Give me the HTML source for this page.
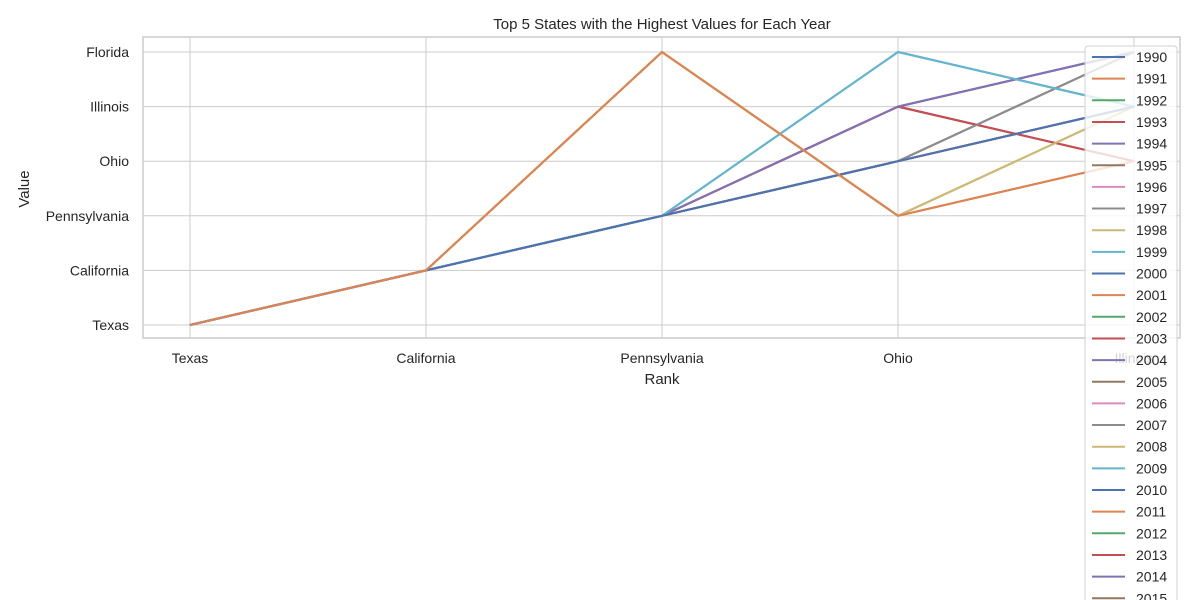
<!DOCTYPE html>
<html><head><meta charset="utf-8"><style>
html,body{margin:0;background:#fff;font-family:"Liberation Sans",sans-serif;overflow:hidden;width:1200px;height:600px}
svg{display:block;overflow:hidden}
svg text{font-family:"Liberation Sans",sans-serif;fill:#262626}
</style></head><body>
<svg width="1200" height="600" id="c">
<text x="662" y="29" font-size="15" text-anchor="middle">Top 5 States with the Highest Values for Each Year</text>
<text x="662" y="384" font-size="15" text-anchor="middle">Rank</text>
<text x="29" y="189" font-size="15" text-anchor="middle" transform="rotate(-90 29 189)">Value</text>
<g id="grid"></g><g id="lines"></g><g id="legend"></g>
</svg>
<script>
const ranks=["Texas","California","Pennsylvania","Ohio","Illinois"];
const states=["Texas","California","Pennsylvania","Ohio","Illinois","Florida"];
const years=[];for(let y=1990;y<=2021;y++)years.push(String(y));
const palette=["#4c72b0","#dd8452","#55a868","#c44e52","#8172b3","#937860","#da8bc3","#8c8c8c","#ccb974","#64b5cd"];
const patterns=[
["Texas","California","Pennsylvania","Ohio","Illinois"],
["Texas","California","Florida","Pennsylvania","Ohio"],
["Texas","California","Pennsylvania","Ohio","Illinois"],
["Texas","California","Pennsylvania","Illinois","Ohio"],
["Texas","California","Pennsylvania","Illinois","Florida"],
["Texas","California","Pennsylvania","Ohio","Illinois"],
["Texas","California","Pennsylvania","Ohio","Illinois"],
["Texas","California","Pennsylvania","Ohio","Florida"],
["Texas","California","Florida","Pennsylvania","Illinois"],
["Texas","California","Pennsylvania","Florida","Illinois"]];
const series=years.map((y,i)=>patterns[i%10]);
const NS="http://www.w3.org/2000/svg";
const L=143,R=1180,T=37,B=338;
const xs=i=>190+i*236;
const ys=s=>325-states.indexOf(s)*54.6;
function mk(t,a,p){const e=document.createElementNS(NS,t);for(const k in a)e.setAttribute(k,a[k]);p.appendChild(e);return e;}
const g=document.getElementById('grid');
ranks.forEach((r,i)=>{mk('line',{x1:xs(i),x2:xs(i),y1:T,y2:B,stroke:'#cccccc'},g);
const t=mk('text',{x:xs(i),y:363,'font-size':14,'text-anchor':'middle'},g);t.textContent=r;

});
states.forEach(s=>{mk('line',{x1:L,x2:R,y1:ys(s),y2:ys(s),stroke:'#cccccc'},g);
const t=mk('text',{x:129,y:ys(s)+5,'font-size':14,'text-anchor':'end'},g);t.textContent=s;

});
mk('rect',{x:L,y:T,width:R-L,height:B-T,fill:'none',stroke:'#cccccc','stroke-width':1.5},g);
const lg=document.getElementById('lines');
series.forEach((s,i)=>{const p=mk('polyline',{points:s.map((v,j)=>xs(j)+','+ys(v)).join(' '),fill:'none',stroke:palette[i%10],'stroke-width':2},lg);

});
const leg=document.getElementById('legend');
const box=mk('rect',{x:1085,y:46,width:92,height:560,fill:'#fff','fill-opacity':0.8,stroke:'#d0d0d0',rx:3},leg);


years.forEach((y,i)=>{const yy=57+i*21.65;
if(yy>620)return;
mk('line',{x1:1092,x2:1125,y1:yy,y2:yy,stroke:palette[i%10],'stroke-width':2},leg);
const t=mk('text',{x:1136,y:yy+5,'font-size':14},leg);t.textContent=y;

});
</script>
</body></html>
